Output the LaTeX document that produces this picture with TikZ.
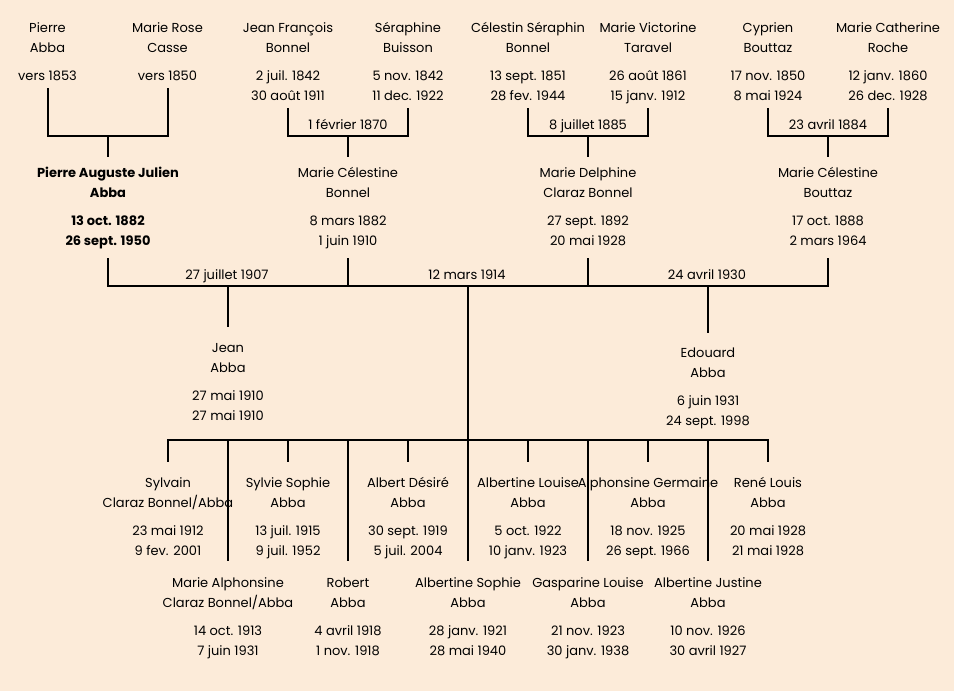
\documentclass[tikz,border=0pt]{standalone}
\usepackage{fontspec}
\setmainfont{Poppins}
\definecolor{bgc}{RGB}{252,235,217}
\newcommand{\persontext}[4]{\begin{tabular}[t]{@{}c@{}}#1\\#2\\[8pt]#3\\#4\end{tabular}}
\begin{document}
\begin{tikzpicture}[x=1pt,y=-1pt,
  pers/.style={inner sep=0pt, anchor=base, font=\fontsize{13}{20}\selectfont},
  persbold/.style={pers, font=\fontsize{13}{20}\selectfont\bfseries},
  mlabel/.style={inner sep=0pt, anchor=base, font=\fontsize{13}{20}\selectfont},
  conn/.style={line width=2pt, line join=miter}]
\useasboundingbox (0,0) rectangle (954,691);
\fill[bgc] (0,0) rectangle (954,691);

% generation 1
\node[pers] (pierre) at (47.5,32) {\persontext{Pierre}{Abba}{vers 1853}{}};
\node[pers] (rose) at (167.5,32) {\persontext{Marie Rose}{Casse}{vers 1850}{}};
\node[pers] (jeanfr) at (288,32) {\persontext{Jean François}{Bonnel}{2 juil. 1842}{30 août 1911}};
\node[pers] (seraph) at (408,32) {\persontext{Séraphine}{Buisson}{5 nov. 1842}{11 dec. 1922}};
\node[pers] (celestin) at (528,32) {\persontext{Célestin Séraphin}{Bonnel}{13 sept. 1851}{28 fev. 1944}};
\node[pers] (victorine) at (648,32) {\persontext{Marie Victorine}{Taravel}{26 août 1861}{15 janv. 1912}};
\node[pers] (cyprien) at (768,32) {\persontext{Cyprien}{Bouttaz}{17 nov. 1850}{8 mai 1924}};
\node[pers] (catherine) at (888,32) {\persontext{Marie Catherine}{Roche}{12 janv. 1860}{26 dec. 1928}};

% marriages generation 1
\node[mlabel] (mar1) at (348,129.5) {1 février 1870};
\node[mlabel] (mar2) at (588,129.5) {8 juillet 1885};
\node[mlabel] (mar3) at (828,129.5) {23 avril 1884};

% generation 2
\node[persbold] (pa) at (108,177.5) {\persontext{Pierre Auguste Julien}{Abba}{13 oct. 1882}{26 sept. 1950}};
\node[pers] (mcb) at (348,177.5) {\persontext{Marie Célestine}{Bonnel}{8 mars 1882}{1 juin 1910}};
\node[pers] (mdcb) at (588,177.5) {\persontext{Marie Delphine}{Claraz Bonnel}{27 sept. 1892}{20 mai 1928}};
\node[pers] (mcbo) at (828,177.5) {\persontext{Marie Célestine}{Bouttaz}{17 oct. 1888}{2 mars 1964}};

% marriages generation 2
\node[mlabel] (mar4) at (227,279.5) {27 juillet 1907};
\node[mlabel] (mar5) at (467,279.5) {12 mars 1914};
\node[mlabel] (mar6) at (707,279.5) {24 avril 1930};

% children of first and third marriage
\node[pers] (jean) at (228,352) {\persontext{Jean}{Abba}{27 mai 1910}{27 mai 1910}};
\node[pers] (edouard) at (708,357) {\persontext{Edouard}{Abba}{6 juin 1931}{24 sept. 1998}};

% children of second marriage, upper row
\node[pers] (sylvain) at (168,487) {\persontext{Sylvain}{Claraz Bonnel/Abba}{23 mai 1912}{9 fev. 2001}};
\node[pers] (sylvie) at (288,487) {\persontext{Sylvie Sophie}{Abba}{13 juil. 1915}{9 juil. 1952}};
\node[pers] (albert) at (408,487) {\persontext{Albert Désiré}{Abba}{30 sept. 1919}{5 juil. 2004}};
\node[pers] (albertinel) at (528,487) {\persontext{Albertine Louise}{Abba}{5 oct. 1922}{10 janv. 1923}};
\node[pers] (alphonsine) at (648,487) {\persontext{Alphonsine Germaine}{Abba}{18 nov. 1925}{26 sept. 1966}};
\node[pers] (rene) at (768,487) {\persontext{René Louis}{Abba}{20 mai 1928}{21 mai 1928}};

% lower row
\node[pers] (mariea) at (228,587) {\persontext{Marie Alphonsine}{Claraz Bonnel/Abba}{14 oct. 1913}{7 juin 1931}};
\node[pers] (robert) at (348,587) {\persontext{Robert}{Abba}{4 avril 1918}{1 nov. 1918}};
\node[pers] (albertines) at (468,587) {\persontext{Albertine Sophie}{Abba}{28 janv. 1921}{28 mai 1940}};
\node[pers] (gasparine) at (588,587) {\persontext{Gasparine Louise}{Abba}{21 nov. 1923}{30 janv. 1938}};
\node[pers] (albertinej) at (708,587) {\persontext{Albertine Justine}{Abba}{10 nov. 1926}{30 avril 1927}};

% junction coordinates
\coordinate (c1) at (108,136);
\coordinate (c2) at (348,136);
\coordinate (c3) at (588,136);
\coordinate (c4) at (828,136);
\coordinate (mm) at (468,286);
\coordinate (sib) at (468,440);

% couples generation 1
\draw[conn] ([xshift=0.5pt,yshift=-2pt]pierre.south) |- (c1) -| ([xshift=0.5pt,yshift=-2pt]rose.south);
\draw[conn] (c1) -- ([yshift=6.5pt]pa.north);
\draw[conn] ([yshift=-2pt]jeanfr.south) |- (c2) -| ([yshift=-2pt]seraph.south);
\draw[conn] (c2) -- ([yshift=6.5pt]mcb.north);
\draw[conn] ([yshift=-2pt]celestin.south) |- (c3) -| ([yshift=-2pt]victorine.south);
\draw[conn] (c3) -- ([yshift=6.5pt]mdcb.north);
\draw[conn] ([yshift=-2pt]cyprien.south) |- (c4) -| ([yshift=-2pt]catherine.south);
\draw[conn] (c4) -- ([yshift=6.5pt]mcbo.north);

% marriages generation 2
\draw[conn] ([yshift=-6.5pt]pa.south) |- (mm) -| ([yshift=-6.5pt]mcbo.south);
\draw[conn] ([yshift=-6.5pt]mcb.south) -- (mcb.south |- mm);
\draw[conn] ([yshift=-6.5pt]mdcb.south) -- (mdcb.south |- mm);
\draw[conn] (jean.north |- mm) -- ([yshift=11pt]jean.north);
\draw[conn] (edouard.north |- mm) -- ([yshift=10pt]edouard.north);
\draw[conn] (mm) -- (sib);

% siblings
\draw[conn] ([yshift=11pt]sylvain.north) |- (sib) -| ([yshift=11pt]rene.north);
\foreach \c in {sylvie,albert,albertinel,alphonsine}
  \draw[conn] (\c.north |- sib) -- ([yshift=11pt]\c.north);
\foreach \c in {mariea,robert,albertines,gasparine,albertinej}
  \draw[conn] (\c.north |- sib) -- ([yshift=12pt]\c.north);
\end{tikzpicture}
\end{document}
